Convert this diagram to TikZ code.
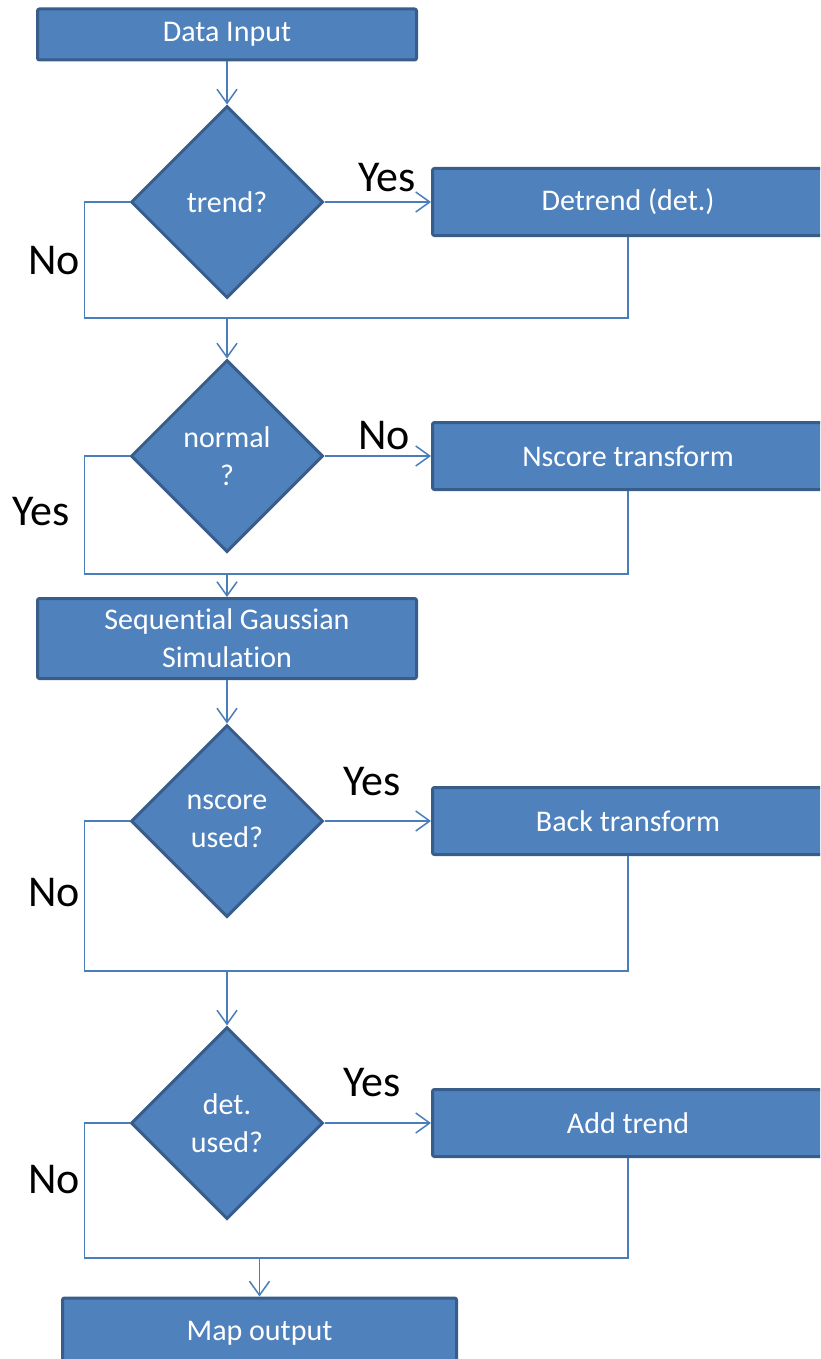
\documentclass[tikz,border=0pt]{standalone}
\usepackage{fontspec}
\setmainfont[Ligatures=NoCommon]{Carlito}
\usepackage{xcolor}
\usetikzlibrary{shapes.geometric,arrows.meta}
\definecolor{boxblue}{HTML}{4F81BD}
\definecolor{boxedge}{HTML}{385D8A}
\definecolor{linkblue}{HTML}{4A7EBB}

\begin{document}
\begin{tikzpicture}[x=1pt,y=-1pt,
      every node/.style = {fill=boxblue, draw=boxedge, line width=3pt,
        text=white, align=center, font=\fontsize{30}{38}\selectfont},
      box/.style = {shape=rectangle, rounded corners=2pt, minimum height=#1},
      box/.default = 67pt,
      test/.style = {shape=diamond, minimum width=192pt, minimum height=192pt, inner sep=0pt},
      answer/.style = {fill=none, draw=none, text=black, font=\fontsize{44}{44}\selectfont},
      link/.style = {draw=linkblue, line width=1.5pt},
      arr/.style = {link, -{Straight Barb[length=14pt,width=20pt]}}]
  \useasboundingbox (0,0) rectangle (820,1359);
  \clip (0,0) rectangle (820,1359);
  \node[box=51pt, minimum width=379pt] (input) at (227,34.5) {Data Input};
  \node[test] (trend) at (227,202) {trend?};
  \node[box, minimum width=391pt] (detrend) at (628,202) {Detrend (det.)};
  \node[test] (normal) at (227,456) {normal\\?};
  \node[box, minimum width=391pt] (nscore) at (628,456) {Nscore transform};
  \node[box=80pt, minimum width=379pt] (sgs) at (227,638.5) {Sequential Gaussian\\Simulation};
  \node[test] (nsused) at (227,821) {nscore\\used?};
  \node[box, minimum width=391pt] (back) at (628,821) {Back transform};
  \node[test] (detused) at (227,1123) {det.\\used?};
  \node[box, minimum width=391pt] (addtrend) at (628,1123) {Add trend};
  \node[box=70pt, minimum width=394pt] (output) at (259.5,1333) {Map output};
  \node[answer] (yes1) at (387,178) {Yes};
  \node[answer] (no1) at (54,261) {No};
  \node[answer] (no2) at (384,436) {No};
  \node[answer] (yes2) at (41,512) {Yes};
  \node[answer] (yes3) at (372,782) {Yes};
  \node[answer] (no3) at (54,893) {No};
  \node[answer] (yes4) at (372,1083) {Yes};
  \node[answer] (no4) at (54,1180) {No};
  \coordinate (j1) at (227,318);
  \coordinate (j2) at (227,574);
  \coordinate (j3) at (227,971);
  \coordinate (j4) at (259.5,1258);
  \draw[arr] (input.south) -- (trend.north);
  \draw[arr] (trend.east) -- (detrend.west);
  \draw[link] (trend.west) -- ++(-45,0) |- (j1);
  \draw[link] (detrend.south) |- (j1);
  \draw[arr] (j1) -- (normal.north);
  \draw[arr] (normal.east) -- (nscore.west);
  \draw[link] (normal.west) -- ++(-45,0) |- (j2);
  \draw[link] (nscore.south) |- (j2);
  \draw[arr] (j2) -- (sgs.north);
  \draw[arr] (sgs.south) -- (nsused.north);
  \draw[arr] (nsused.east) -- (back.west);
  \draw[link] (nsused.west) -- ++(-45,0) |- (j3);
  \draw[link] (back.south) |- (j3);
  \draw[arr] (j3) -- (detused.north);
  \draw[arr] (detused.east) -- (addtrend.west);
  \draw[link] (detused.west) -- ++(-45,0) |- (j4);
  \draw[link] (addtrend.south) |- (j4);
  \draw[arr] (j4) -- (output.north);
\end{tikzpicture}
\end{document}
